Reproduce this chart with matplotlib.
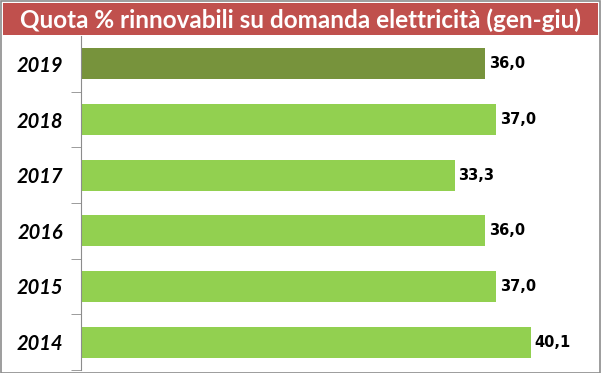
import matplotlib
matplotlib.use("Agg")
import matplotlib.pyplot as plt
from matplotlib.patches import Rectangle

years = ["2019", "2018", "2017", "2016", "2015", "2014"]
values = [36.0, 37.0, 33.3, 36.0, 37.0, 40.1]
colors = ["#77933C", "#92D050", "#92D050", "#92D050", "#92D050", "#92D050"]
title = "Quota % rinnovabili su domanda elettricità (gen-giu)"

W, H = 601, 373
fig = plt.figure(figsize=(W / 100, H / 100), dpi=100)
plt.rcParams['font.family'] = ['DejaVu Sans']

# cornice esterna e fascia del titolo
fig.patches.append(Rectangle((0.5 / W, 0.5 / H), (W - 1.5) / W, (H - 1.5) / H,
                             transform=fig.transFigure, fill=False,
                             edgecolor="#8C8C8C", linewidth=1.2))
fig.patches.append(Rectangle((3 / W, (H - 35) / H), (W - 6) / W, 32 / H,
                             transform=fig.transFigure, facecolor="#C0504D",
                             edgecolor="none"))
fig.text(0.5, (H - 20) / H, title, ha="center", va="center", color="white",
         fontsize=17.5, fontweight="bold", family=["Lato", "DejaVu Sans"])

ax = fig.add_axes([81 / W, 3 / H, (597 - 81) / W, (370 - 36) / H])
pos = list(range(len(years)))
ax.barh(pos, values, height=0.56, color=colors)
ax.set_ylim(len(years) - 0.5, -0.5)
ax.set_xlim(0, 46)

for p, v in zip(pos, values):
    ax.text(v + 0.35, p, f"{v:.1f}".replace(".", ","), va="center", ha="left",
            fontsize=10.5, fontweight="bold")

ax.set_yticks(pos)
ax.set_yticklabels(years, fontsize=14.5, fontweight="bold", fontstyle="italic",
                   family=["Lato", "DejaVu Sans"])
ax.tick_params(axis="y", length=0, pad=13)
ax.set_yticks([p + 0.5 for p in pos], minor=True)
ax.tick_params(axis="y", which="minor", length=7, color="#8C8C8C")
ax.set_xticks([])
for s in ["top", "right", "bottom"]:
    ax.spines[s].set_visible(False)
ax.spines["left"].set_color("#8C8C8C")

fig.savefig("out.png", dpi=100)
